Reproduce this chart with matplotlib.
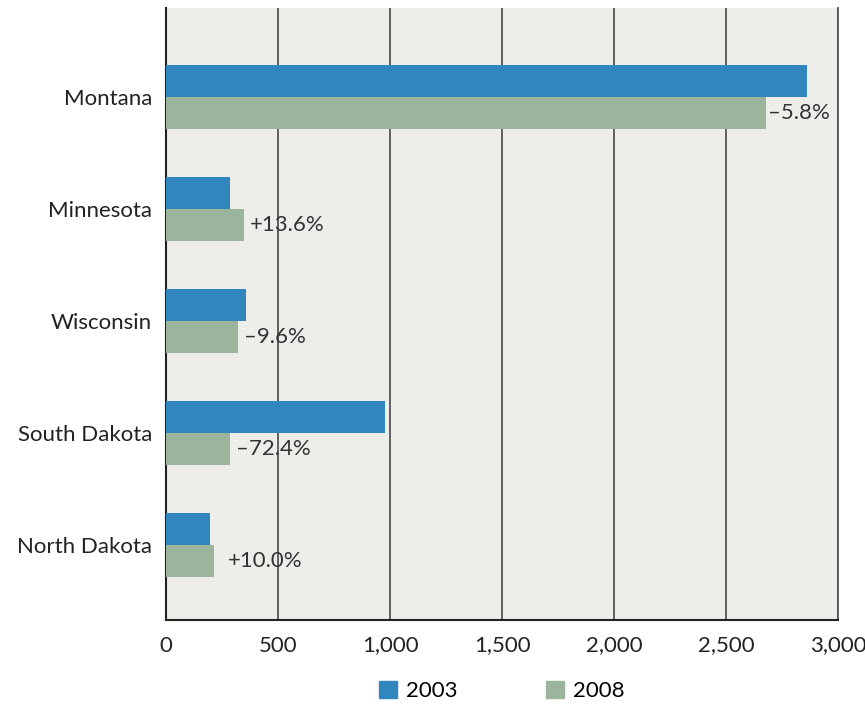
import numpy as np
import matplotlib.pyplot as plt
from matplotlib.patches import Patch

# dados
estados = ['Montana', 'Minnesota', 'Wisconsin', 'South Dakota', 'North Dakota']
v2003 = [2860, 286, 357, 978, 196]
v2008 = [2680, 348, 321, 286, 214]
variacao = ['–5.8%', '+13.6%', '–9.6%', '–72.4%', '+10.0%']

cor_2003 = '#3186BD'
cor_2008 = '#9BB59C'
plt.rcParams['font.family'] = ['Lato', 'DejaVu Sans']

fig = plt.figure(figsize=(8.65, 7.04), dpi=100)
ax = fig.add_axes([0.192, 0.119, 0.777, 0.87])
ax.set_facecolor('#EDEEEA')

y = np.arange(len(estados))
h = 0.286
ax.barh(y - h / 2, v2003, height=h, color=cor_2003, zorder=3)
ax.barh(y + h / 2, v2008, height=h, color=cor_2008, zorder=3)

# rótulos de variação (deslocamento como no original)
desloc = [8, 25, 25, 25, 60]
for i, (v, txt) in enumerate(zip(v2008, variacao)):
    ax.text(v + desloc[i], y[i] + h / 2, txt, va='center', ha='left',
            fontsize=16, color='#333333', zorder=4)

ax.set_xlim(0, 3000)
ax.set_ylim(4.67, -0.8)
ax.set_xticks(np.arange(0, 3001, 500))
ax.set_xticklabels(['0', '500', '1,000', '1,500', '2,000', '2,500', '3,000'])
ax.set_yticks(y)
ax.set_yticklabels(estados)
ax.tick_params(axis='both', length=0, labelsize=16, colors='#222222')
ax.tick_params(axis='x', pad=11)
ax.tick_params(axis='y', pad=10)
ax.grid(axis='x', color='#555555', linewidth=1.3, zorder=1)

ax.spines['top'].set_visible(False)
ax.spines['right'].set_color('#555555')
ax.spines['right'].set_linewidth(1.3)
ax.spines['left'].set_color('#222222')
ax.spines['left'].set_linewidth(1.5)
ax.spines['bottom'].set_color('#222222')
ax.spines['bottom'].set_linewidth(1.5)

handles = [Patch(color=cor_2003, label='2003'), Patch(color=cor_2008, label='2008')]
fig.legend(handles=handles, loc='center', bbox_to_anchor=(0.58, 0.018), ncol=2,
           frameon=False, fontsize=16, handlelength=0.8, handleheight=0.8,
           columnspacing=4.0, handletextpad=0.4)

fig.savefig('out.png', dpi=100)
